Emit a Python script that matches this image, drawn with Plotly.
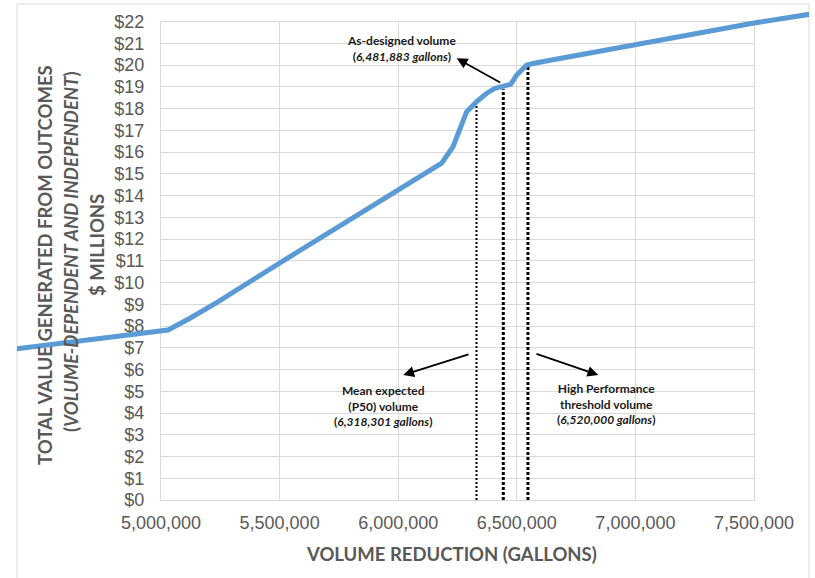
import plotly.graph_objects as go

# ---------------- data ----------------
volume = [4388700, 4953600, 5029500, 5122000, 5234800, 5500000, 6000000, 6091900,
          6183400, 6231000, 6260500, 6288800, 6331000, 6373100, 6408100, 6441800,
          6474300, 6499600, 6541700, 6583900, 6724300, 7000000, 7500000, 7739000]
value_musd = [6.95, 7.74, 7.82, 8.36, 9.08, 10.9, 14.27, 14.92,
              15.49, 16.25, 17.02, 17.86, 18.32, 18.71, 18.94, 19.01,
              19.12, 19.55, 20.01, 20.11, 20.39, 20.90, 21.94, 22.35]

marker_names = ["P50", "As-designed", "High Performance"]
marker_x = [6330000, 6443000, 6547000]
marker_top = [18.17, 18.89, 20.0]

x_tickvals = [5000000, 5500000, 6000000, 6500000, 7000000, 7500000]
x_ticktext = ["5,000,000", "5,500,000", "6,000,000", "6,500,000", "7,000,000", "7,500,000"]
y_tickvals = list(range(0, 23))
y_ticktext = ["$" + str(v) for v in y_tickvals]

# ---------------- geometry (pixels) ----------------
W, H = 815, 578
L, R, T, B = 17, 809, 4, 500           # chart-area (paper) box
PX0, PX1 = 161, 754                     # pixel of 5,000,000 and 7,500,000
PY0, PY22 = 500, 21.7                   # pixel of $0 and $22
ppx = (PX1 - PX0) / (x_tickvals[-1] - x_tickvals[0])
ppy = (PY0 - PY22) / 22.0
x_left = x_tickvals[0] - (PX0 - L) / ppx
x_right = x_tickvals[-1] + (R - PX1) / ppx
y_top = 22 + (PY22 - T) / ppy


def px2x(px):
    return x_tickvals[0] + (px - PX0) / ppx


def py2y(py):
    return (PY0 - py) / ppy


def paper_x(px):
    return (px - L) / (R - L)


def paper_y(py):
    return (B - py) / (B - T)


GRID = "#D9D9D9"
TXT = "#595959"
fig = go.Figure()

# vertical reference lines (inner axes)
styles = [dict(width=2, dash="2px,2px"), dict(width=3, dash="3px,2px"), dict(width=3, dash="3px,2px")]
for xv, top, st in zip(marker_x, marker_top, styles):
    fig.add_trace(go.Scatter(x=[xv, xv], y=[0, top], mode="lines", xaxis="x", yaxis="y",
                             line=dict(color="black", **st),
                             hoverinfo="skip", showlegend=False))

# curve on the full-chart overlay axes (so it runs past the plot area like the original)
fig.add_trace(go.Scatter(x=volume, y=value_musd, mode="lines", xaxis="x2", yaxis="y2",
                         line=dict(color="#5B9BD5", width=5),
                         hoverinfo="skip", showlegend=False))

shapes = [dict(type="rect", xref="paper", yref="paper", x0=0, x1=1,
               y0=paper_y(590), y1=1, line=dict(color=GRID, width=1), layer="below")]

annotations = []
arrows = [((456.7, 58.3), (501.7, 83.3)),
          ((403.3, 375.0), (470.0, 354.0)),
          ((598.3, 375.0), (535.0, 353.3))]
for (hx, hy), (tx, ty) in arrows:
    annotations.append(dict(x=px2x(hx), y=py2y(hy), ax=px2x(tx), ay=py2y(ty),
                            xref="x", yref="y", axref="x", ayref="y", text="",
                            showarrow=True, arrowhead=2, arrowsize=1.2, arrowwidth=1.8,
                            arrowcolor="black"))

lab_font = dict(family="Lato", size=12, color="#1a1a1a")
labels = [("<b>As-designed volume</b><br><b>(<i>6,481,883 gallons</i>)</b>", 401, 48.7),
          ("<b>Mean expected</b><br><b>(P50) volume</b><br><b>(<i>6,318,301 gallons</i>)</b>", 383.3, 406),
          ("<b>High Performance</b><br><b>threshold volume</b><br><b>(<i>6,520,000 gallons</i>)</b>", 606, 403.6)]
for txt, cx, cy in labels:
    annotations.append(dict(x=paper_x(cx), y=paper_y(cy), xref="paper", yref="paper",
                            text=txt, showarrow=False, font=lab_font, align="center",
                            xanchor="center", yanchor="middle"))

title_font = dict(family="Lato", size=18.5, color=TXT)
annotations.append(dict(x=paper_x(452), y=paper_y(554), xref="paper", yref="paper",
                        text="<b>VOLUME REDUCTION (GALLONS)</b>", showarrow=False,
                        font=title_font, xanchor="center", yanchor="middle"))
ytitles = [("<b>TOTAL VALUE GENERATED FROM OUTCOMES</b>", 45, 265),
           ("<b>(<i>VOLUME-DEPENDENT AND INDEPENDENT</i>)</b>", 71, 252),
           ("<b>$ MILLIONS</b>", 97, 245)]
for txt, cx, cy in ytitles:
    annotations.append(dict(x=paper_x(cx), y=paper_y(cy), xref="paper", yref="paper",
                            text=txt, showarrow=False, font=title_font, textangle=-90,
                            xanchor="center", yanchor="middle"))

tick_font = dict(family="Liberation Sans", size=18, color=TXT)
fig.update_layout(
    width=W, height=H,
    margin=dict(l=L, r=W - R, t=T, b=H - B, pad=0, autoexpand=False),
    paper_bgcolor="white", plot_bgcolor="rgba(0,0,0,0)",
    showlegend=False,
    xaxis=dict(domain=[paper_x(PX0), paper_x(PX1)], range=[x_tickvals[0], x_tickvals[-1]],
               tickvals=x_tickvals, ticktext=x_ticktext, anchor="y", automargin=False,
               showgrid=True, gridcolor=GRID, gridwidth=1, zeroline=False,
               showline=True, linecolor=GRID, linewidth=1, mirror=True, ticks="",
               tickfont=tick_font, ticklabelstandoff=6, fixedrange=True),
    yaxis=dict(domain=[0, paper_y(PY22)], range=[0, 22], tickvals=y_tickvals,
               ticktext=y_ticktext, anchor="x", automargin=False,
               showgrid=True, gridcolor=GRID, gridwidth=1, zeroline=False,
               showline=True, linecolor=GRID, linewidth=1, mirror=True, ticks="",
               tickfont=tick_font, ticklabelstandoff=12, fixedrange=True),
    xaxis2=dict(domain=[0, 1], range=[x_left, x_right], anchor="y2", visible=False,
                automargin=False, fixedrange=True),
    yaxis2=dict(domain=[0, 1], range=[0, y_top], anchor="x2", visible=False,
                automargin=False, fixedrange=True),
    shapes=shapes,
    annotations=annotations,
)

fig.write_html("out.html", config={"displayModeBar": False},
               post_script="document.body.style.margin='0px';")
